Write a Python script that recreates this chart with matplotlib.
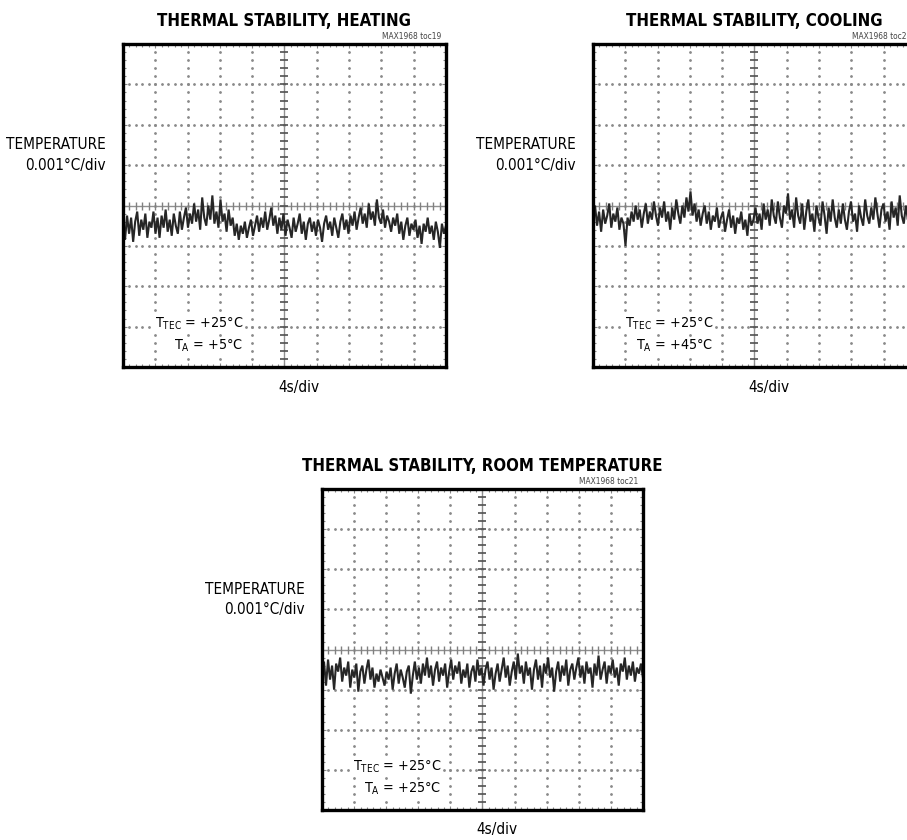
import numpy as np
import matplotlib
matplotlib.use('Agg')
import matplotlib.pyplot as plt
import matplotlib.font_manager as fm
from matplotlib.ticker import MultipleLocator

# look for a narrow / condensed face, the original uses one
cond = [f for f in fm.fontManager.ttflist
        if 'Narrow' in f.name or 'Condensed' in f.name
        or f.stretch in ('condensed', 'semi-condensed', 'extra-condensed')]
if cond:
    FAMILY = cond[0].name
    plt.rcParams['font.stretch'] = 'condensed'
    SZ = dict(title=12.1, label=11.0, note=10.3, toc=6.0)
else:
    FAMILY = 'Liberation Sans'
    SZ = dict(title=11.5, label=10.0, note=10.0, toc=6.0)

plt.rcParams['font.family'] = [FAMILY, 'DejaVu Sans']
plt.rcParams['mathtext.default'] = 'regular'

# trace offsets from the centre line, in divisions (0.001 C/div), 10 divs wide
heating = [-0.45, -0.85, -0.25, -0.70, -0.30, -0.90, -0.40, -0.15, -0.75, -0.35, -0.60, -0.20, -0.80, -0.40, -0.55, -0.15,
           -0.70, -0.30, -0.80, -0.25, -0.55, -0.10, -0.65, -0.35, -0.75, -0.20, -0.50, -0.70, -0.15, -0.60, -0.30, -0.05,
           -0.55, -0.20, -0.45, 0.05, -0.40, -0.10, -0.60, 0.20, -0.30, -0.50, 0.00, -0.35, 0.25, -0.45, -0.15, -0.55,
           0.15, -0.40, -0.20, -0.65, -0.10, -0.50, -0.30, -0.75, -0.45, -0.85, -0.50, -0.70, -0.40, -0.80, -0.55, -0.35,
           -0.75, -0.50, -0.25, -0.65, -0.30, -0.55, -0.15, -0.60, -0.35, -0.05, -0.50, -0.25, -0.70, -0.30, -0.60, -0.20,
           -0.75, -0.35, -0.55, -0.80, -0.30, -0.65, -0.45, -0.20, -0.70, -0.40, -0.85, -0.45, -0.30, -0.65, -0.40, -0.75,
           -0.35, -0.55, -0.90, -0.45, -0.25, -0.60, -0.40, -0.75, -0.30, -0.55, -0.80, -0.40, -0.20, -0.60, -0.35, -0.70,
           -0.25, -0.50, -0.15, -0.60, -0.30, -0.05, -0.45, -0.20, -0.55, 0.05, -0.35, -0.15, -0.50, 0.15, -0.30, -0.45,
           -0.10, -0.55, -0.25, -0.40, -0.65, -0.30, -0.50, -0.20, -0.70, -0.40, -0.85, -0.50, -0.30, -0.75, -0.45, -0.60,
           -0.35, -0.80, -0.50, -0.95, -0.45, -0.65, -0.30, -0.70, -0.50, -0.85, -0.40, -0.65, -1.05, -0.45, -0.70, -0.50]

cooling = [-0.35, 0.00, -0.50, -0.15, -0.65, -0.10, -0.45, -0.25, 0.05, -0.55, -0.20, -0.40, -0.05, -0.60, -0.30, -0.45,
           -1.00, -0.30, -0.50, -0.15, -0.40, 0.00, -0.35, -0.10, -0.55, -0.20, 0.05, -0.45, -0.15, -0.35, 0.10, -0.25,
           -0.50, -0.05, -0.30, 0.10, -0.40, -0.15, -0.60, -0.05, -0.35, 0.15, -0.20, -0.45, 0.00, -0.30, 0.20, -0.15,
           0.35, -0.25, 0.05, -0.40, -0.10, -0.50, -0.20, 0.00, -0.45, -0.15, -0.60, -0.25, -0.40, -0.05, -0.55, -0.30,
           -0.15, -0.65, -0.35, -0.10, -0.55, -0.25, -0.70, -0.30, -0.45, -0.15, -0.60, -0.35, -0.75, -0.20, -0.50, -0.35,
           -0.05, -0.45, -0.20, -0.60, 0.05, -0.35, -0.10, -0.50, 0.15, -0.25, -0.45, 0.10, -0.30, -0.55, 0.00, -0.20,
           0.30, -0.35, -0.10, -0.55, 0.20, -0.25, -0.45, 0.05, -0.60, -0.15, 0.15, -0.40, -0.20, -0.65, 0.00, -0.30,
           -0.50, 0.10, -0.25, -0.70, -0.05, -0.40, 0.15, -0.30, -0.55, -0.10, -0.45, 0.05, -0.35, -0.60, -0.15, 0.10,
           -0.40, -0.20, -0.65, 0.00, -0.30, -0.50, 0.15, -0.25, -0.45, -0.05, -0.35, 0.20, -0.20, -0.55, -0.10, 0.05,
           -0.40, -0.15, -0.60, 0.10, -0.30, -0.05, -0.50, 0.25, -0.25, -0.45, 0.00, -0.35, 0.15, -0.20, -0.40, 0.05]

room = [-0.60, -0.30, -0.90, -0.25, -0.75, -0.40, -1.00, -0.35, -0.55, -0.20, -0.80, -0.45, -0.65, -0.30, -0.95, -0.50,
        -0.70, -0.35, -1.05, -0.55, -0.40, -0.85, -0.50, -0.25, -0.75, -0.45, -0.95, -0.60, -0.80, -0.50, -0.70, -0.90,
        -0.55, -0.75, -0.45, -1.00, -0.60, -0.35, -0.85, -0.50, -0.70, -0.95, -0.55, -0.40, -1.10, -0.65, -0.30, -0.75,
        -0.45, -0.85, -0.35, -0.65, -0.20, -0.70, -0.40, -0.90, -0.50, -0.30, -0.80, -0.45, -0.65, -0.35, -0.95, -0.55,
        -0.25, -0.75, -0.40, -0.60, -0.30, -0.85, -0.50, -0.70, -0.35, -0.95, -0.55, -0.40, -0.80, -0.25, -0.65, -0.45,
        -0.90, -0.50, -0.30, -0.75, -0.45, -1.00, -0.60, -0.35, -0.80, -0.50, -0.20, -0.70, -0.40, -0.90, -0.55, -0.30,
        -0.75, -0.10, -0.60, -0.40, -0.85, -0.30, -0.65, -0.45, -1.00, -0.50, -0.25, -0.75, -0.40, -0.95, -0.35, -0.60,
        -0.20, -0.70, -0.45, -1.05, -0.55, -0.30, -0.80, -0.40, -0.65, -0.25, -0.90, -0.50, -0.35, -0.75, -0.45, -0.20,
        -0.70, -0.40, -0.85, -0.30, -0.60, -0.45, -0.95, -0.35, -0.65, -0.15, -0.75, -0.50, -0.30, -0.85, -0.40, -0.60,
        -0.25, -0.70, -0.45, -0.90, -0.35, -0.55, -0.20, -0.75, -0.40, -0.65, -0.30, -0.80, -0.45, -0.60, -0.35, -0.70]

titles = ['THERMAL STABILITY, HEATING', 'THERMAL STABILITY, COOLING',
          'THERMAL STABILITY, ROOM TEMPERATURE']
tocs = ['MAX1968 toc19', 'MAX1968 toc20', 'MAX1968 toc21']
ambient = ['+5°C', '+45°C', '+25°C']
t_tec = '+25°C'

NX, NY = 10, 8


def draw_scope(ax, trace, title, toc, ta):
    ax.set_xlim(0, NX)
    ax.set_ylim(0, NY)

    # dotted graticule, 5 dots per division
    sub = np.arange(0, NX * 5 + 1) / 5.0
    subv = np.arange(0, NY * 5 + 1) / 5.0
    for i in range(1, NX):
        if i == NX // 2:
            continue
        ax.plot([i] * len(subv), subv, ls='none', marker='o', ms=1.0, color='#8a8a8a', zorder=1)
    for j in range(1, NY):
        if j == NY // 2:
            continue
        ax.plot(sub, [j] * len(sub), ls='none', marker='o', ms=1.0, color='#8a8a8a', zorder=1)

    # centre cross with tick marks
    ax.axhline(NY / 2, color='#909090', lw=1.0, zorder=1)
    ax.axvline(NX / 2, color='#909090', lw=1.0, zorder=1)
    ax.plot(sub, [NY / 2] * len(sub), ls='none', marker='|', ms=6, mew=1.0, color='#808080', zorder=1)
    ax.plot([NX / 2] * len(subv), subv, ls='none', marker='_', ms=6, mew=1.2, color='#505050', zorder=1)

    # edge ticks
    ax.xaxis.set_major_locator(MultipleLocator(1))
    ax.xaxis.set_minor_locator(MultipleLocator(0.2))
    ax.yaxis.set_major_locator(MultipleLocator(1))
    ax.yaxis.set_minor_locator(MultipleLocator(0.2))
    ax.tick_params(which='both', direction='in', top=True, right=True,
                   labelbottom=False, labelleft=False, color='#888888', width=0.8)
    ax.tick_params(which='major', length=3)
    ax.tick_params(which='minor', length=2)

    x = np.linspace(0, NX, len(trace))
    y = NY / 2 + np.array(trace)
    ax.plot(x, y, color='#262626', lw=1.5, solid_joinstyle='miter', zorder=3)

    for s in ax.spines.values():
        s.set_linewidth(2.4)
        s.set_color('black')
        s.set_zorder(5)

    bb = dict(facecolor='white', edgecolor='none', pad=0.5)
    ax.text(3.72, 1.07, 'T$_{TEC}$ = ' + t_tec, ha='right', va='center',
            fontsize=SZ['note'], bbox=bb, zorder=4)
    ax.text(3.72, 0.52, 'T$_{A}$ = ' + ta, ha='right', va='center',
            fontsize=SZ['note'], bbox=bb, zorder=4)

    ax.text(0.5, 1.072, title, transform=ax.transAxes, ha='center', va='center',
            fontsize=SZ['title'], fontweight='heavy')
    ax.text(0.985, 1.022, toc, transform=ax.transAxes, ha='right', va='center',
            fontsize=SZ['toc'], color='#444444')
    ax.text(-0.053, 0.656, 'TEMPERATURE\n0.001°C/div', transform=ax.transAxes,
            ha='right', va='center', fontsize=SZ['label'], linespacing=1.45)
    ax.text(0.545, -0.062, '4s/div', transform=ax.transAxes, ha='center',
            va='center', fontsize=SZ['label'])


fig = plt.figure(figsize=(9.07, 8.4), dpi=100)
ax1 = fig.add_axes([0.1356, 0.5631, 0.3561, 0.3845])
ax2 = fig.add_axes([0.6538, 0.5631, 0.3561, 0.3845])
ax3 = fig.add_axes([0.3550, 0.0357, 0.3539, 0.3821])

for ax, tr, t, toc, ta in zip([ax1, ax2, ax3], [heating, cooling, room], titles, tocs, ambient):
    draw_scope(ax, tr, t, toc, ta)

fig.savefig('out.png', dpi=100)
